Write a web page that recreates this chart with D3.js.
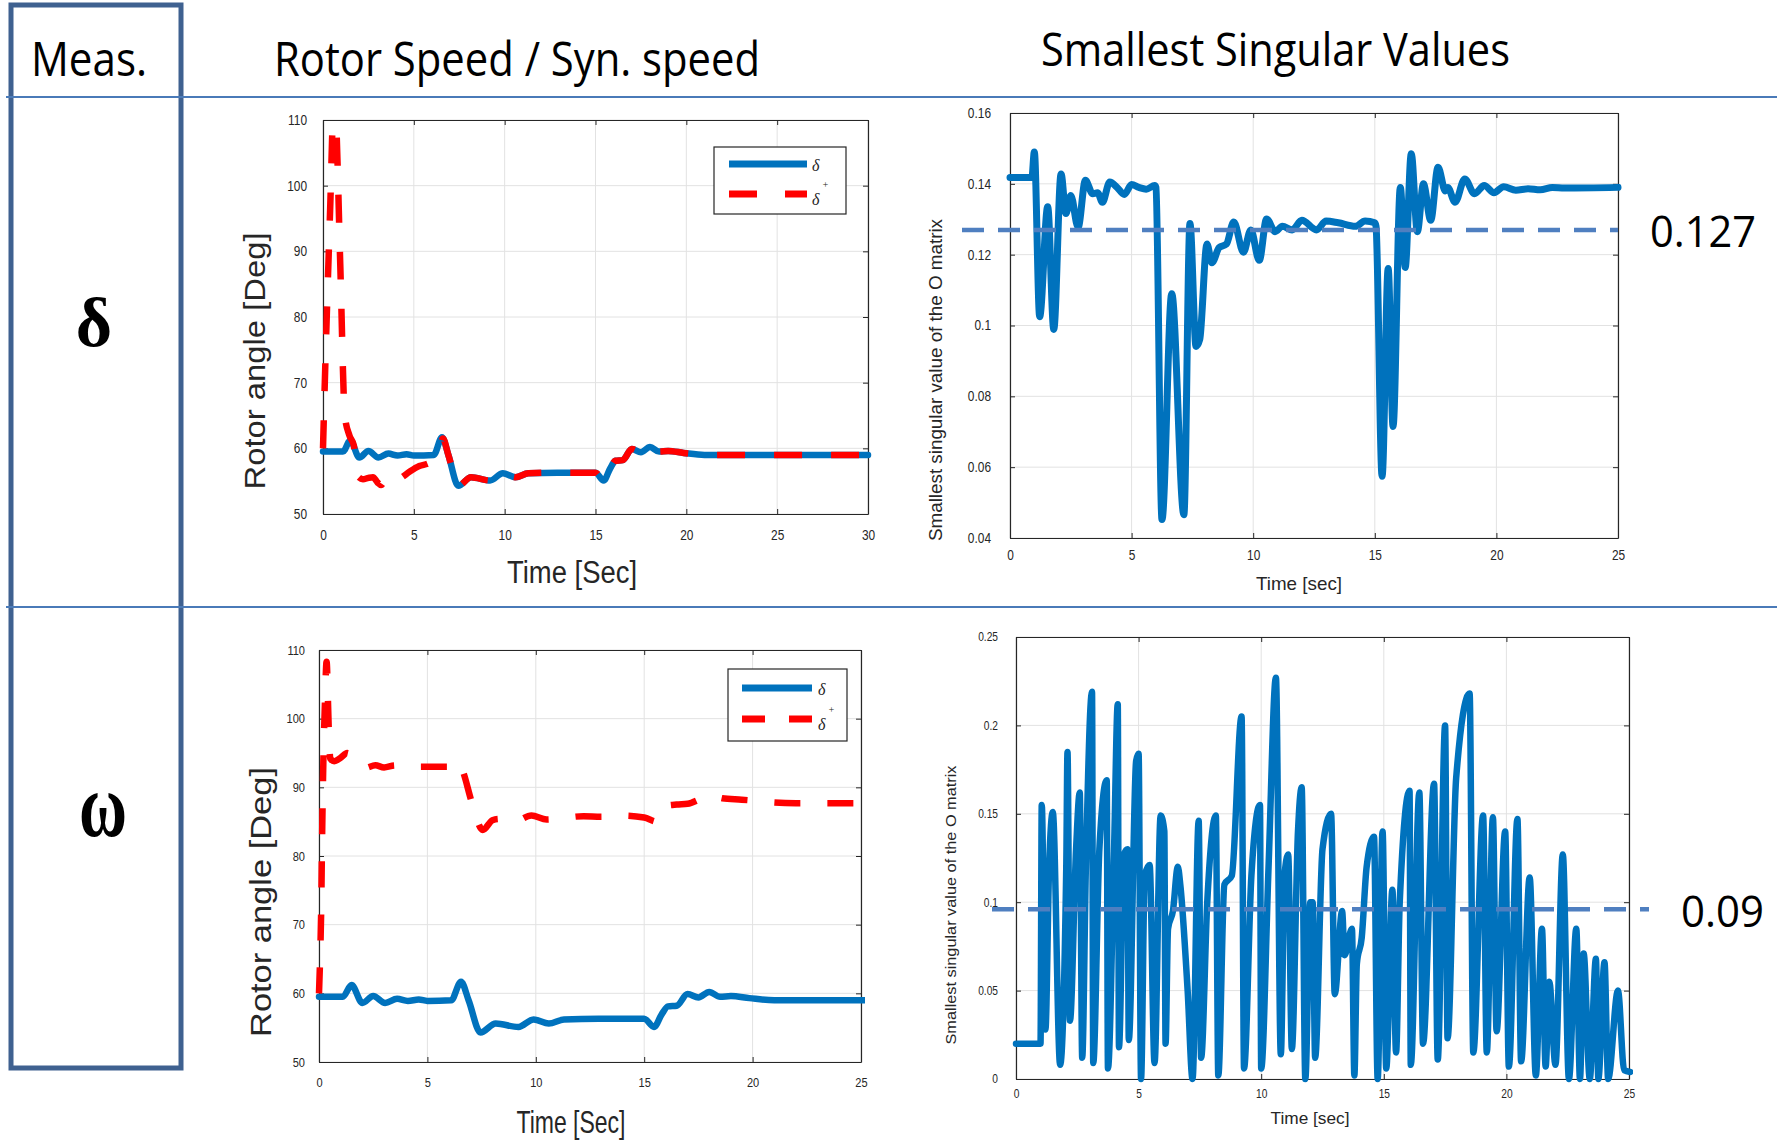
<!DOCTYPE html>
<html>
<head>
<meta charset="utf-8">
<script src="https://cdn.jsdelivr.net/npm/d3@7"></script>
<style>
  body { margin: 0; background: #fff; }
  svg { display: block; }
</style>
</head>
<body>
<div id="chart"></div>
<script>
/** DATA */
// rotor angle, measured (same run in both left panels)  [time s, deg]
const deltaTrue = [
  [0,59.5],[1.1,59.5],[1.5,61.2],[2.0,58.6],[2.5,59.6],[3.05,58.6],[3.6,59.2],[4.1,58.9],
  [4.6,59.1],[5.0,58.9],[6.1,59.0],[6.55,61.7],[6.9,59.0],[7.45,54.3],[8.15,55.6],[9.2,55.1],
  [9.9,56.2],[10.6,55.6],[11.3,56.2],[12.9,56.3],[14.3,56.3],[15.0,56.3],[15.45,55.1],[15.8,56.9],
  [16.1,58.1],[16.5,58.2],[17.0,59.9],[17.5,59.4],[18.0,60.2],[18.5,59.5],[19.0,59.6],[19.85,59.3],
  [21,59.0],[30,59.0]
];
// estimated rotor angle when delta is measured
const deltaEstDelta = [
  [0,60],[0.12,72],[0.25,84],[0.4,97],[0.55,111],[0.63,114],[0.72,110],[0.95,88],[1.2,65],
  [1.45,62],[1.7,60.4],[1.9,55.8],[2.2,55.3],[2.5,55.5],[2.75,55.6],[3.0,54.8],[3.2,54.4],
  [3.45,55.4],[3.6,55.7],[3.9,54.8],[4.3,55.5],[4.8,56.5],[5.3,57.3],[5.8,57.7],[6.15,58.3],
  [6.4,59.8],[6.6,61.5],[6.9,59.0],[7.45,54.3],[8.15,55.6],[9.2,55.1],[9.9,56.2],[10.6,55.6],
  [11.3,56.2],[12.9,56.3],[14.3,56.3],[15.0,56.3],[15.45,55.1],[15.8,56.9],[16.1,58.1],[16.5,58.2],
  [17.0,59.9],[17.5,59.4],[18.0,60.2],[18.5,59.5],[19.0,59.6],[19.85,59.3],[21,59.0],[30,59.0]
];
// estimated rotor angle when omega is measured
const deltaEstOmega = [
  [0,60],[0.05,65],[0.1,72],[0.14,82],[0.19,92],[0.27,102],[0.35,108.3],[0.45,98.5],[0.52,94.2],
  [0.7,93.8],[1.0,94.3],[1.3,95.0],[1.6,94.4],[2.1,92.8],[2.6,93.2],[3.0,92.9],[3.5,93.2],
  [4.0,92.9],[4.5,93.0],[5.5,93.0],[6.1,93.0],[6.3,93.8],[6.6,92.6],[7.05,87.8],[7.55,83.8],
  [8.0,85.2],[8.3,85.4],[9.0,85.0],[9.8,85.9],[10.5,85.3],[11.2,85.5],[12.2,85.8],[13.0,85.7],
  [14.0,85.9],[15.0,85.6],[15.6,85.0],[16.0,87.3],[16.5,87.5],[17.0,87.6],[17.6,88.3],[18.1,88.9],
  [18.6,88.4],[19.5,88.2],[20.3,88.0],[21,87.8],[22,87.7],[25,87.7]
];
// smallest singular value of O, delta measured
const sigmaDelta = [
  [0,0.1418],[0.9,0.1418],[1.0,0.149],[1.22,0.1025],[1.55,0.1335],[1.8,0.0989],[2.1,0.1428],
  [2.3,0.1316],[2.5,0.1367],[2.8,0.1277],[3.1,0.141],[3.4,0.1372],[3.6,0.1375],[3.8,0.1348],
  [4.1,0.1405],[4.4,0.139],[4.7,0.137],[5.0,0.1398],[5.3,0.139],[5.6,0.1385],[5.95,0.1395],
  [6.0,0.139],[6.25,0.0452],[6.65,0.109],[7.15,0.0466],[7.4,0.1288],[7.65,0.0941],[7.8,0.096],
  [8.1,0.123],[8.3,0.1177],[8.6,0.122],[8.9,0.123],[9.2,0.1292],[9.6,0.1207],[9.9,0.127],
  [10.25,0.1184],[10.55,0.1301],[10.9,0.1265],[11.2,0.128],[11.6,0.127],[12.0,0.1297],[12.6,0.127],
  [13.0,0.1295],[13.5,0.129],[14.2,0.128],[14.6,0.1295],[15.0,0.129],[15.05,0.128],[15.3,0.0574],
  [15.55,0.1161],[15.75,0.0715],[16.05,0.139],[16.25,0.1164],[16.5,0.1485],[16.75,0.1265],
  [17.0,0.14],[17.3,0.1297],[17.6,0.1447],[17.9,0.138],[18.0,0.139],[18.3,0.1348],[18.7,0.1414],
  [19.1,0.1372],[19.5,0.1395],[19.9,0.1375],[20.3,0.1392],[20.8,0.1382],[21.3,0.1386],
  [21.8,0.1383],[22.3,0.139],[22.8,0.1388],[25,0.139]
];
// smallest singular value of O, omega measured
const sigmaOmega = [
  [0,0.02],[1.0,0.02],[1.05,0.155],[1.2,0.028],[1.35,0.12],[1.5,0.151],[1.8,0.008],[2.05,0.12],
  [2.1,0.185],[2.2,0.033],[2.45,0.13],[2.6,0.162],[2.7,0.012],[2.85,0.12],[3.1,0.219],[3.15,0.009],
  [3.4,0.13],[3.7,0.169],[3.75,0.006],[4.0,0.13],[4.15,0.212],[4.2,0.018],[4.4,0.127],[4.55,0.13],
  [4.6,0.022],[4.9,0.18],[5.0,0.184],[5.1,0.0],[5.25,0.115],[5.45,0.121],[5.65,0.009],[5.9,0.149],
  [6.05,0.14],[6.1,0.02],[6.2,0.085],[6.4,0.095],[6.6,0.12],[6.7,0.11],[7.0,0.05],[7.2,0.0],
  [7.45,0.146],[7.55,0.012],[7.8,0.1],[8.15,0.149],[8.25,0.002],[8.5,0.11],[8.8,0.115],[9.2,0.205],
  [9.3,0.006],[9.6,0.115],[9.95,0.155],[10.0,0.006],[10.3,0.12],[10.6,0.227],[10.8,0.014],
  [10.95,0.115],[11.1,0.127],[11.25,0.017],[11.5,0.14],[11.65,0.165],[11.8,0.0],[12.0,0.1],
  [12.1,0.1],[12.2,0.012],[12.5,0.13],[12.85,0.15],[13.0,0.048],[13.3,0.095],[13.4,0.07],
  [13.7,0.085],[13.8,0.002],[13.9,0.065],[14.1,0.08],[14.3,0.12],[14.6,0.137],[14.75,0.0],
  [14.95,0.14],[15.1,0.006],[15.35,0.107],[15.5,0.015],[15.65,0.1],[16.05,0.163],[16.1,0.008],
  [16.45,0.162],[16.6,0.02],[17.05,0.167],[17.2,0.011],[17.5,0.2],[17.6,0.023],[17.95,0.17],
  [18.5,0.218],[18.65,0.015],[19.05,0.149],[19.2,0.015],[19.45,0.148],[19.6,0.027],[19.95,0.14],
  [20.1,0.007],[20.45,0.147],[20.6,0.01],[20.95,0.114],[21.2,0.002],[21.45,0.085],[21.6,0.007],
  [21.75,0.055],[22.0,0.008],[22.3,0.127],[22.55,0.0],[22.85,0.085],[23.0,0.0],[23.15,0.071],
  [23.4,0.0],[23.65,0.068],[23.75,0.0],[24.0,0.066],[24.15,0.0],[24.55,0.05],[24.8,0.005],[25.05,0.004]
];

const angleTicks = [50, 60, 70, 80, 90, 100, 110];
const time30Ticks = [0, 5, 10, 15, 20, 25, 30];
const time25Ticks = [0, 5, 10, 15, 20, 25];
const sigmaDeltaTicks = [0.04, 0.06, 0.08, 0.1, 0.12, 0.14, 0.16];
const sigmaOmegaTicks = [0, 0.05, 0.1, 0.15, 0.2, 0.25];
const thresholds = [0.127, 0.096];
const thresholdLabels = ["0.127", "0.09"];
const headers = ["Meas.", "Rotor Speed / Syn. speed", "Smallest Singular Values"];
const rowLabels = ["δ", "ω"];

/** CONSTANTS */
const width = 1777, height = 1147;
const blue = "#0072BD", red = "#FF0000", frame = "#3F6190", rule = "#4A7AB8";
const tickFont = "'Liberation Sans',Arial,sans-serif";
const labelFont = "'Liberation Sans',Arial,sans-serif";
const headFont = "'Open Sans','Noto Sans',sans-serif";
const squeeze = 0.85; // tick labels in the slide are horizontally condensed

const svg = d3.select("#chart").append("svg")
  .attr("width", width)
  .attr("height", height);

// table frame + rules
svg.append("rect")
  .attr("x", 11).attr("y", 5).attr("width", 170).attr("height", 1063)
  .attr("fill", "none").attr("stroke", frame).attr("stroke-width", 5);
[97, 607].forEach(yy => svg.append("line")
  .attr("x1", 6).attr("x2", 1777).attr("y1", yy).attr("y2", yy)
  .attr("stroke", rule).attr("stroke-width", 1.8));

// headers
const headPos = [
  { x: 31, y: 76, len: 116, size: 48 },
  { x: 274, y: 76, len: 486, size: 48 },
  { x: 1041, y: 66, len: 469, size: 46 }
];
headers.forEach((t, i) => svg.append("text")
  .attr("x", headPos[i].x).attr("y", headPos[i].y)
  .attr("textLength", headPos[i].len).attr("lengthAdjust", "spacingAndGlyphs")
  .attr("font-family", headFont).attr("font-size", headPos[i].size)
  .attr("fill", "#000").text(t));

// row symbols
svg.append("text").attr("x", 94).attr("y", 346).attr("text-anchor", "middle")
  .attr("font-family", "'Liberation Serif','DejaVu Serif',serif").attr("font-weight", "bold")
  .attr("font-size", 70).text(rowLabels[0]);
svg.append("text").attr("x", 79).attr("y", 836)
  .attr("textLength", 48).attr("lengthAdjust", "spacingAndGlyphs")
  .attr("font-family", "'Liberation Serif','DejaVu Serif',serif").attr("font-weight", "bold")
  .attr("font-size", 92).text(rowLabels[1]);

let clipId = 0;
function panel(cfg) {
  const g = svg.append("g");
  const x = d3.scaleLinear().domain(cfg.xDomain).range([cfg.left, cfg.right]);
  const y = d3.scaleLinear().domain(cfg.yDomain).range([cfg.bottom, cfg.top]);

  // grid
  g.selectAll("line.vgrid").data(cfg.xTicks).join("line")
    .attr("class", "vgrid")
    .attr("x1", d => x(d)).attr("x2", d => x(d))
    .attr("y1", cfg.top).attr("y2", cfg.bottom)
    .attr("stroke", "#e2e2e2").attr("stroke-width", 1);
  g.selectAll("line.hgrid").data(cfg.yTicks).join("line")
    .attr("class", "hgrid")
    .attr("x1", cfg.left).attr("x2", cfg.right)
    .attr("y1", d => y(d)).attr("y2", d => y(d))
    .attr("stroke", "#e2e2e2").attr("stroke-width", 1);

  const fmt = d => String(d);
  const axes = [
    g.append("g").attr("transform", `translate(0,${cfg.bottom})`)
      .call(d3.axisBottom(x).tickValues(cfg.xTicks).tickSizeInner(-5).tickSizeOuter(0)
        .tickPadding(cfg.xPad).tickFormat(fmt)),
    g.append("g").attr("transform", `translate(0,${cfg.top})`)
      .call(d3.axisTop(x).tickValues(cfg.xTicks).tickSizeInner(-5).tickSizeOuter(0).tickFormat("")),
    g.append("g").attr("transform", `translate(${cfg.left},0)`)
      .call(d3.axisLeft(y).tickValues(cfg.yTicks).tickSizeInner(-5).tickSizeOuter(0)
        .tickPadding(cfg.yPad / squeeze).tickFormat(fmt)),
    g.append("g").attr("transform", `translate(${cfg.right},0)`)
      .call(d3.axisRight(y).tickValues(cfg.yTicks).tickSizeInner(-5).tickSizeOuter(0).tickFormat(""))
  ];
  axes.forEach(a => {
    a.select(".domain").attr("stroke", "#262626").attr("stroke-width", 1.2);
    a.selectAll(".tick line").attr("stroke", "#262626");
    a.selectAll(".tick text").attr("fill", "#262626")
      .attr("font-family", tickFont).attr("font-size", cfg.tickSize)
      .attr("transform", `scale(${squeeze},1)`);
  });

  const id = "clip" + (clipId++);
  svg.append("clipPath").attr("id", id).append("rect")
    .attr("x", cfg.left - 4).attr("y", cfg.top)
    .attr("width", cfg.right - cfg.left + 8).attr("height", cfg.bottom - cfg.top + 5);
  const plot = svg.append("g").attr("clip-path", `url(#${id})`);

  // axis labels
  svg.append("text")
    .attr("x", cfg.xl.x).attr("y", cfg.xl.y).attr("text-anchor", "middle")
    .attr("textLength", cfg.xl.len).attr("lengthAdjust", "spacingAndGlyphs")
    .attr("font-family", labelFont).attr("font-size", cfg.xl.size).attr("fill", "#262626")
    .text(cfg.xl.text);
  svg.append("text")
    .attr("transform", `translate(${cfg.yl.x},${cfg.yl.y}) rotate(-90)`)
    .attr("text-anchor", "middle")
    .attr("textLength", cfg.yl.len).attr("lengthAdjust", "spacingAndGlyphs")
    .attr("font-family", labelFont).attr("font-size", cfg.yl.size).attr("fill", "#262626")
    .text(cfg.yl.text);

  const line = d3.line().x(d => x(d[0])).y(d => y(d[1])).curve(d3.curveMonotoneX);
  return { x, y, plot, line };
}

function legend(b, dash) {
  const lg = svg.append("g");
  lg.append("rect").attr("x", b.x).attr("y", b.y).attr("width", b.w).attr("height", b.h)
    .attr("fill", "#fff").attr("stroke", "#262626").attr("stroke-width", 1.2);
  lg.append("line").attr("x1", b.lx1).attr("x2", b.lx2).attr("y1", b.y1).attr("y2", b.y1)
    .attr("stroke", blue).attr("stroke-width", 7);
  lg.append("line").attr("x1", b.lx1).attr("x2", b.lx2).attr("y1", b.y2).attr("y2", b.y2)
    .attr("stroke", red).attr("stroke-width", 7).attr("stroke-dasharray", dash);
  const sym = { "font-family": "'Liberation Serif','DejaVu Serif',serif", "font-style": "italic", "fill": "#262626" };
  const t1 = lg.append("text").attr("x", b.tx).attr("y", b.y1 + 7).attr("font-size", 16).text("δ");
  const t2 = lg.append("text").attr("x", b.tx).attr("y", b.y2 + 11).attr("font-size", 16).text("δ");
  const t3 = lg.append("text").attr("x", b.tx + 10).attr("y", b.y2 - 6).attr("font-size", 10).text("+");
  [t1, t2, t3].forEach(t => Object.entries(sym).forEach(([k, v]) => t.attr(k, v)));
}

/** PANEL 1: delta measured, rotor angle */
const p1 = panel({
  left: 323, right: 868, top: 120, bottom: 514,
  xDomain: [0, 30], yDomain: [50, 110], xTicks: time30Ticks, yTicks: angleTicks,
  xPad: 16, yPad: 16, tickSize: 14,
  xl: { x: 572, y: 583, len: 130, size: 31, text: "Time [Sec]" },
  yl: { x: 265, y: 361, len: 257, size: 30, text: "Rotor angle [Deg]" }
});
p1.plot.append("path").datum(deltaTrue).attr("d", p1.line)
  .attr("fill", "none").attr("stroke", blue).attr("stroke-width", 6.5)
  .attr("stroke-linejoin", "round").attr("stroke-linecap", "round");
p1.plot.append("path").datum(deltaEstDelta).attr("d", p1.line)
  .attr("fill", "none").attr("stroke", red).attr("stroke-width", 6.5)
  .attr("stroke-dasharray", "28,29").attr("stroke-linejoin", "round");
legend({ x: 714, y: 147, w: 132, h: 67, lx1: 729, lx2: 807, y1: 164, y2: 194, tx: 812 }, "28,28");

/** PANEL 2: delta measured, smallest singular value */
const p2 = panel({
  left: 1010, right: 1618, top: 113, bottom: 538,
  xDomain: [0, 25], yDomain: [0.04, 0.16], xTicks: time25Ticks, yTicks: sigmaDeltaTicks,
  xPad: 12, yPad: 19, tickSize: 14,
  xl: { x: 1299, y: 590, len: 86, size: 19, text: "Time [sec]" },
  yl: { x: 942, y: 380, len: 322, size: 18, text: "Smallest singular value of the O matrix" }
});
p2.plot.append("path").datum(sigmaDelta).attr("d", p2.line)
  .attr("fill", "none").attr("stroke", blue).attr("stroke-width", 7)
  .attr("stroke-linejoin", "round").attr("stroke-linecap", "round");

/** PANEL 3: omega measured, rotor angle */
const p3 = panel({
  left: 319, right: 861, top: 650, bottom: 1062,
  xDomain: [0, 25], yDomain: [50, 110], xTicks: time25Ticks, yTicks: angleTicks,
  xPad: 16, yPad: 14, tickSize: 13,
  xl: { x: 571, y: 1133, len: 109, size: 32, text: "Time [Sec]" },
  yl: { x: 271, y: 902, len: 270, size: 29, text: "Rotor angle [Deg]" }
});
p3.plot.append("path").datum(deltaTrue).attr("d", p3.line)
  .attr("fill", "none").attr("stroke", blue).attr("stroke-width", 6.5)
  .attr("stroke-linejoin", "round").attr("stroke-linecap", "round");
p3.plot.append("path").datum(deltaEstOmega).attr("d", p3.line)
  .attr("fill", "none").attr("stroke", red).attr("stroke-width", 6.5)
  .attr("stroke-dasharray", "26,27").attr("stroke-linejoin", "round");
legend({ x: 728, y: 669, w: 119, h: 72, lx1: 742, lx2: 812, y1: 688, y2: 719, tx: 818 }, "23,24");

/** PANEL 4: omega measured, smallest singular value */
const p4 = panel({
  left: 1016, right: 1629, top: 637, bottom: 1079,
  xDomain: [0, 25], yDomain: [0, 0.25], xTicks: time25Ticks, yTicks: sigmaOmegaTicks,
  xPad: 10, yPad: 18, tickSize: 12,
  xl: { x: 1310, y: 1124, len: 79, size: 17, text: "Time [sec]" },
  yl: { x: 956, y: 905, len: 279, size: 15, text: "Smallest singular value of the O matrix" }
});
p4.plot.append("path").datum(sigmaOmega).attr("d", p4.line)
  .attr("fill", "none").attr("stroke", blue).attr("stroke-width", 6.5)
  .attr("stroke-linejoin", "round").attr("stroke-linecap", "round");

/** THRESHOLDS */
const thr = [
  { p: p2, x1: 962, x2: 1618, tx: 1650, ty: 247, len: 106 },
  { p: p4, x1: 992, x2: 1649, tx: 1681, ty: 927, len: 83 }
];
thr.forEach((t, i) => {
  const yy = t.p.y(thresholds[i]);
  svg.append("line").attr("x1", t.x1).attr("x2", t.x2).attr("y1", yy).attr("y2", yy)
    .attr("stroke", "#4F7FC0").attr("stroke-width", 4.5).attr("stroke-dasharray", "22,14");
  svg.append("text").attr("x", t.tx).attr("y", t.ty)
    .attr("textLength", t.len).attr("lengthAdjust", "spacingAndGlyphs")
    .attr("font-family", headFont).attr("font-size", 43).attr("fill", "#000")
    .text(thresholdLabels[i]);
});
</script>
</body>
</html>
